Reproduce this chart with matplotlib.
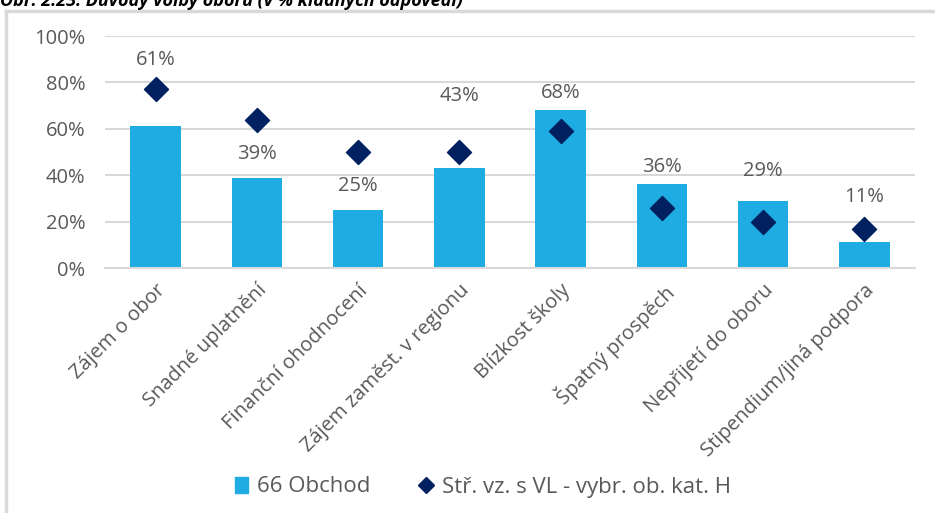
import matplotlib.pyplot as plt
from matplotlib.patches import Rectangle
from matplotlib.lines import Line2D
import numpy as np

plt.rcParams['font.family'] = ['Open Sans', 'DejaVu Sans']

kategorie = ['Zájem o obor', 'Snadné uplatnění', 'Finanční ohodnocení',
             'Zájem zaměst. v regionu', 'Blízkost školy', 'Špatný prospěch',
             'Nepřijetí do oboru', 'Stipendium/jiná podpora']
obchod = [61, 39, 25, 43, 68, 36, 29, 11]          # 66 Obchod
prumer = [77, 64, 50, 50, 59, 26, 20, 17]          # Stř. vz. s VL - vybr. ob. kat. H
popisky_y = [89.5, 49, 35.5, 74, 75.5, 43.5, 42, 30.5]  # umístění popisků hodnot

modra = '#1EACE3'
tmava = '#002060'
seda = '#595959'

fig = plt.figure(figsize=(9.35, 5.13), dpi=100)
ax = fig.add_axes([105 / 935, 245 / 513, 810 / 935, 232 / 513])

x = np.arange(len(kategorie))
ax.bar(x, obchod, width=0.5, color=modra, zorder=2)
ax.scatter(x, prumer, marker='D', s=150, color=tmava, zorder=3)
for i in x:
    ax.text(i, popisky_y[i], '%d%%' % obchod[i], ha='center', va='center',
            fontsize=14.5, color=seda)

ax.set_xlim(-0.5, len(kategorie) - 0.5)
ax.set_ylim(0, 100)
ax.set_yticks(np.arange(0, 101, 20))
ax.set_yticklabels(['%d%%' % v for v in range(0, 101, 20)])
ax.yaxis.grid(True, color='#D9D9D9', linewidth=1.5, zorder=0)
ax.set_axisbelow(True)
for s in ['top', 'right', 'left']:
    ax.spines[s].set_visible(False)
ax.spines['bottom'].set_color('#D9D9D9')
ax.spines['bottom'].set_linewidth(1.5)
ax.tick_params(axis='both', length=0, labelsize=14.5, labelcolor=seda)
ax.tick_params(axis='y', pad=14)
ax.set_xticks(x)
ax.set_xticklabels(kategorie, rotation=45, ha='right', rotation_mode='anchor')
ax.tick_params(axis='x', pad=9)

handles = [Rectangle((0, 0), 1, 1, color=modra),
           Line2D([], [], marker='D', linestyle='', color=tmava, markersize=8)]
fig.legend(handles, ['66 Obchod', 'Stř. vz. s VL - vybr. ob. kat. H'],
           loc='center', bbox_to_anchor=(483 / 935, 1 - 487 / 513), ncol=2,
           frameon=False, fontsize=16, labelcolor=seda, handlelength=0.6,
           handletextpad=0.4, columnspacing=2.2)

# rámeček grafu
fig.add_artist(Line2D([6 / 935, 6 / 935], [0, 1 - 11 / 513], color='#D9D9D9', linewidth=2.5))
fig.add_artist(Line2D([6 / 935, 1], [1 - 11 / 513, 1 - 11 / 513], color='#D9D9D9', linewidth=2.5))

fig.text(0.0, 1 - 6 / 513, 'Obr. 2.23: Důvody volby oboru (v % kladných odpovědí)',
         fontsize=13, fontweight='bold', fontstyle='italic', va='baseline', color='black')

plt.savefig('out.png', dpi=100)
